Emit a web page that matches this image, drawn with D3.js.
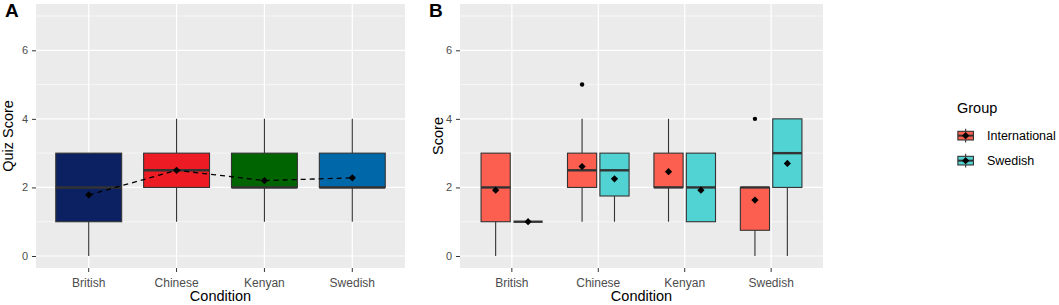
<!DOCTYPE html>
<html>
<head>
<meta charset="utf-8">
<script src="https://cdn.jsdelivr.net/npm/d3@7"></script>
<style>
  body { margin: 0; background: #fff; }
  svg { display: block; font-family: "Liberation Sans", Arial, sans-serif; }
</style>
</head>
<body>
<div id="chart"></div>
<script>
// DATA
const conditions = ["British", "Chinese", "Kenyan", "Swedish"];
const groups = ["International", "Swedish"];

// panel A: [min, q1, median, q3, max] per condition
const quizBox = [[0, 1, 2, 3, 3], [1, 2, 2.5, 3, 4], [1, 2, 2, 3, 4], [1, 2, 2, 3, 4]];
const quizMean = [1.78, 2.5, 2.2, 2.28];
const quizColors = ["#0b2162", "#ed1c24", "#006400", "#0067a9"];

// panel B
const intlBox = [[0, 1, 2, 3, 3], [1, 2, 2.5, 3, 4], [1, 2, 2, 3, 4], [0, 0.75, 2, 2, 2]];
const intlMean = [1.92, 2.61, 2.46, 1.63];
const intlOutliers = [[], [5], [], [4]];
const sweBox = [[1, 1, 1, 1, 1], [1, 1.75, 2.5, 3, 3], [1, 1, 2, 3, 3], [0, 2, 3, 4, 4]];
const sweMean = [1, 2.25, 1.92, 2.7];
const sweOutliers = [[], [], [], []];
const groupColors = ["#fc5f4f", "#52d3d3"];

const yTicks = [0, 2, 4, 6];
const yMinor = [1, 3, 5, 7];

const W = 1059, H = 305;
const svg = d3.select("#chart").append("svg")
    .attr("width", W)
    .attr("height", H);

const panelTop = 4, panelBottom = 268;
const y = d3.scaleLinear().domain([-0.35, 7.35]).range([panelBottom, panelTop]);

const outline = "#333333";
const diamond = d3.symbol().type(d3.symbolSquare).size(26);

function drawPanel(opts) {
    const g = svg.append("g");
    const x = d3.scaleBand()
        .domain(conditions)
        .range([opts.left, opts.right])
        .paddingInner(0)
        .paddingOuter(0.1); // ~0.6 units of expansion on discrete axis
    // band of width step, center = x(d) + bw/2
    const step = x.step();
    const cx = d => x(d) + x.bandwidth() / 2;

    // background
    g.append("rect")
        .attr("x", opts.left).attr("y", panelTop)
        .attr("width", opts.right - opts.left)
        .attr("height", panelBottom - panelTop)
        .attr("fill", "#ebebeb");

    // grid
    g.selectAll(".minor").data(yMinor).join("line")
        .attr("x1", opts.left).attr("x2", opts.right)
        .attr("y1", d => y(d)).attr("y2", d => y(d))
        .attr("stroke", "#fff").attr("stroke-width", 0.6);
    g.selectAll(".major").data(yTicks).join("line")
        .attr("x1", opts.left).attr("x2", opts.right)
        .attr("y1", d => y(d)).attr("y2", d => y(d))
        .attr("stroke", "#fff").attr("stroke-width", 1.2);
    g.selectAll(".vmajor").data(conditions).join("line")
        .attr("x1", cx).attr("x2", cx)
        .attr("y1", panelTop).attr("y2", panelBottom)
        .attr("stroke", "#fff").attr("stroke-width", 1.2);

    // y axis
    const yAxis = g.append("g")
        .attr("transform", `translate(${opts.left},0)`)
        .call(d3.axisLeft(y).tickValues(yTicks).tickSize(4).tickPadding(4));
    yAxis.select(".domain").remove();
    yAxis.selectAll("line").attr("stroke", outline);
    yAxis.selectAll("text").attr("fill", "#4d4d4d").style("font-size", "11px")
        .style("font-family", "Liberation Sans, Arial, sans-serif");

    // x axis
    const xAxis = g.append("g")
        .attr("transform", `translate(0,${panelBottom})`)
        .call(d3.axisBottom(x).tickSize(4).tickPadding(6));
    xAxis.select(".domain").remove();
    xAxis.selectAll("line").attr("stroke", outline);
    xAxis.selectAll("text").attr("fill", "#4d4d4d").style("font-size", "12px")
        .style("font-family", "Liberation Sans, Arial, sans-serif");

    // axis titles
    g.append("text")
        .attr("x", (opts.left + opts.right) / 2)
        .attr("y", 301)
        .attr("text-anchor", "middle")
        .attr("font-size", "14.5px")
        .attr("fill", "#000")
        .text("Condition");
    g.append("text")
        .attr("transform", "rotate(-90)")
        .attr("x", -(panelTop + panelBottom) / 2)
        .attr("y", opts.yTitleX)
        .attr("text-anchor", "middle")
        .attr("font-size", "14.5px")
        .attr("fill", "#000")
        .text(opts.yTitle);

    // panel tag
    g.append("text")
        .attr("x", opts.tagX).attr("y", 17)
        .attr("font-size", "19px")
        .attr("font-weight", "bold")
        .attr("fill", "#000")
        .text(opts.tag);

    return { g, x, cx, step };
}

function drawBox(g, xc, w, s, fill) {
    const [mn, q1, md, q3, mx] = s;
    const bg = g.append("g");
    bg.append("line")
        .attr("x1", xc).attr("x2", xc)
        .attr("y1", y(mx)).attr("y2", y(q3))
        .attr("stroke", outline).attr("stroke-width", 1.1);
    bg.append("line")
        .attr("x1", xc).attr("x2", xc)
        .attr("y1", y(q1)).attr("y2", y(mn))
        .attr("stroke", outline).attr("stroke-width", 1.1);
    bg.append("rect")
        .attr("x", xc - w / 2).attr("width", w)
        .attr("y", y(q3)).attr("height", Math.max(0, y(q1) - y(q3)))
        .attr("fill", fill)
        .attr("stroke", outline).attr("stroke-width", 1.1);
    bg.append("line")
        .attr("x1", xc - w / 2).attr("x2", xc + w / 2)
        .attr("y1", y(md)).attr("y2", y(md))
        .attr("stroke", outline).attr("stroke-width", 2.4);
}

// PANEL A
const A = drawPanel({ left: 36, right: 405, tag: "A", tagX: 5, yTitle: "Quiz Score", yTitleX: 13 });
conditions.forEach((c, i) => {
    drawBox(A.g, A.cx(c), A.step * 0.75, quizBox[i], quizColors[i]);
});
A.g.append("path")
    .datum(conditions.map((c, i) => [A.cx(c), y(quizMean[i])]))
    .attr("d", d3.line())
    .attr("fill", "none")
    .attr("stroke", "#000")
    .attr("stroke-width", 1.3)
    .attr("stroke-dasharray", "5,4");
A.g.selectAll(".meanA").data(conditions).join("path")
    .attr("d", diamond)
    .attr("transform", (c, i) => `translate(${A.cx(c)},${y(quizMean[i])}) rotate(45)`)
    .attr("fill", "#000");

// PANEL B
const B = drawPanel({ left: 460, right: 823, tag: "B", tagX: 429, yTitle: "Score", yTitleX: 443 });
const dodge = B.step * 0.75;
const sub = dodge / 2;
const boxW = sub * 0.9;
const series = [
    { box: intlBox, mean: intlMean, out: intlOutliers, color: groupColors[0], off: -sub / 2 },
    { box: sweBox, mean: sweMean, out: sweOutliers, color: groupColors[1], off: sub / 2 }
];
series.forEach(s => {
    conditions.forEach((c, i) => {
        const xc = B.cx(c) + s.off;
        drawBox(B.g, xc, boxW, s.box[i], s.color);
        s.out[i].forEach(v => {
            B.g.append("circle")
                .attr("cx", xc).attr("cy", y(v)).attr("r", 2.2)
                .attr("fill", "#000");
        });
        B.g.append("path")
            .attr("d", diamond)
            .attr("transform", `translate(${xc},${y(s.mean[i])}) rotate(45)`)
            .attr("fill", "#000");
    });
});

// LEGEND
const legend = svg.append("g").attr("transform", "translate(957,0)");
legend.append("text")
    .attr("x", 0).attr("y", 113)
    .attr("font-size", "14.5px")
    .attr("fill", "#000")
    .text("Group");
const keySize = 17.3;
const keys = legend.selectAll(".key").data(groups).join("g")
    .attr("transform", (d, i) => `translate(0,${127 + i * 25})`);
keys.append("line")
    .attr("x1", keySize / 2).attr("x2", keySize / 2)
    .attr("y1", keySize * 0.1).attr("y2", keySize * 0.9)
    .attr("stroke", outline).attr("stroke-width", 1.1);
keys.append("rect")
    .attr("x", keySize * 0.05).attr("width", keySize * 0.9)
    .attr("y", keySize * 0.25).attr("height", keySize * 0.5)
    .attr("fill", (d, i) => groupColors[i])
    .attr("stroke", outline).attr("stroke-width", 1.1);
keys.append("line")
    .attr("x1", keySize * 0.05).attr("x2", keySize * 0.95)
    .attr("y1", keySize / 2).attr("y2", keySize / 2)
    .attr("stroke", outline).attr("stroke-width", 2);
keys.append("path")
    .attr("d", diamond)
    .attr("transform", `translate(${keySize / 2},${keySize / 2}) rotate(45)`)
    .attr("fill", "#000");
keys.append("text")
    .attr("x", 30).attr("y", keySize / 2 + 4.5)
    .attr("font-size", "12.5px")
    .attr("fill", "#000")
    .text(d => d);
</script>
</body>
</html>
